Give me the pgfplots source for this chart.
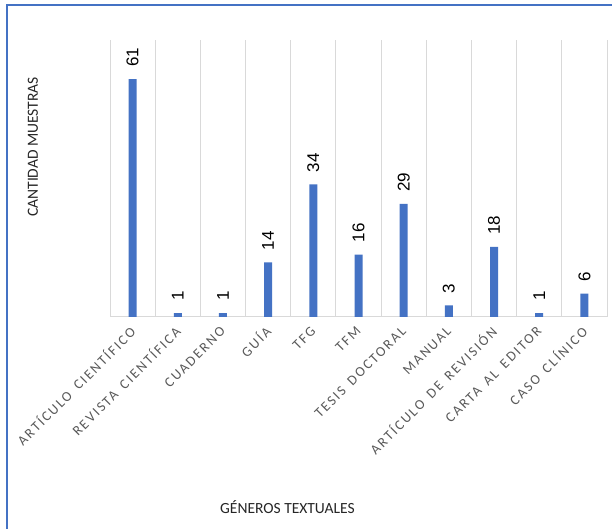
\documentclass[border=0pt]{standalone}
\usepackage{fontspec}
\setmainfont{Carlito}
\newfontfamily\tickfont[LetterSpace=14, WordSpace=1.6]{Carlito}
\newfontfamily\valfont{Liberation Sans}
\usepackage{pgfplots}
\pgfplotsset{compat=1.18}
\definecolor{barblue}{HTML}{4472C4}
\definecolor{gridgray}{HTML}{D9D9D9}
\definecolor{tickgray}{HTML}{595959}
\definecolor{titlegray}{HTML}{262626}
\begin{document}
\begin{tikzpicture}
\useasboundingbox[fill=white] (0,0) rectangle (612bp,529bp);
% outer frame of the chart area
\draw[barblue, line width=2bp] (7bp,-20bp) -- (7bp,524bp) -- (640bp,524bp);
\begin{axis}[
  at={(110bp,212bp)}, anchor=south west,
  scale only axis, width=497bp, height=277bp,
  xmin=-0.5, xmax=10.5, ymin=0, ymax=71,
  ybar, bar width=8bp,
  clip=false,
  /pgf/number format/assume math mode=true,
  axis x line*=bottom, axis y line*=left,
  x axis line style={color=gridgray, line width=1bp},
  y axis line style={draw=none},
  ytick=\empty,
  xtick={0,...,10},
  xticklabels={ARTÍCULO CIENTÍFICO, REVISTA CIENTÍFICA, CUADERNO, GUÍA, TFG, TFM, TESIS DOCTORAL, MANUAL, ARTÍCULO DE REVISIÓN, CARTA AL EDITOR, CASO CLÍNICO},
  major tick length=0pt,
  minor xtick={-0.5,0.5,...,10.5},
  minor tick length=0pt,
  xminorgrids=true,
  minor grid style={color=gridgray, line width=1bp},
  xticklabel style={rotate=45, anchor=east, inner sep=0pt,
    font=\tickfont\fontsize{14bp}{14bp}\selectfont, text=tickgray},
  xticklabel shift=12bp,
  nodes near coords,
  nodes near coords style={rotate=90, anchor=west, inner xsep=12bp, inner ysep=0pt,
    font=\valfont\fontsize{17bp}{17bp}\selectfont, text=black},
  xlabel={GÉNEROS TEXTUALES},
  ylabel={CANTIDAD MUESTRAS},
  label style={font=\fontsize{15.5bp}{15.5bp}\selectfont, text=titlegray},
  xlabel style={at={(axis description cs:0.357,-0.688)}, anchor=center},
  ylabel style={at={(axis description cs:-0.155,0.614)}, anchor=center},
]
\addplot[fill=barblue, draw=none] coordinates {
  (0,61) (1,1) (2,1) (3,14) (4,34) (5,16) (6,29) (7,3) (8,18) (9,1) (10,6)
};
\end{axis}
\end{tikzpicture}
\end{document}
